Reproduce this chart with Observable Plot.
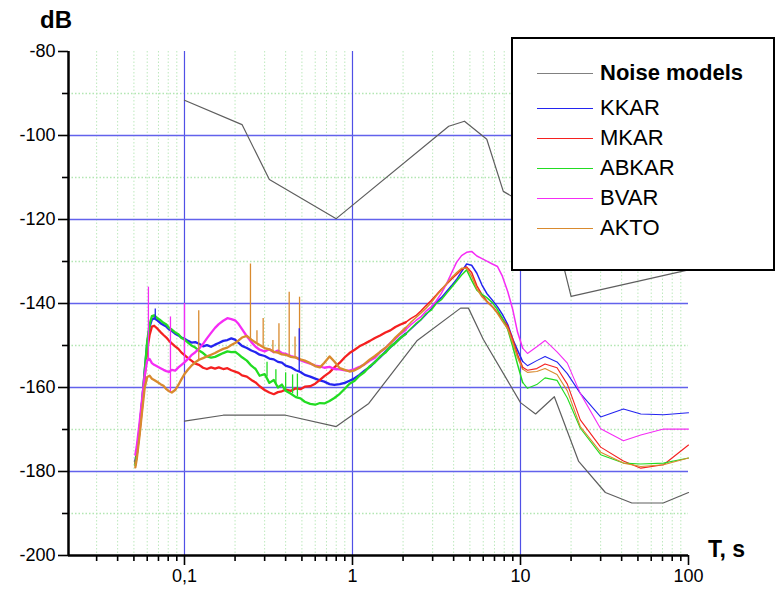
<!DOCTYPE html>
<html><head><meta charset="utf-8">
<script src="https://cdn.jsdelivr.net/npm/d3@7"></script>
<script src="https://cdn.jsdelivr.net/npm/@observablehq/plot@0.6"></script>
<style>
body{margin:0;background:#fff;font-family:"Liberation Sans",Arial,sans-serif;}
#wrap{position:relative;width:777px;height:597px;overflow:hidden;}
#wrap svg{position:absolute;left:0;top:0;}
.lab{position:absolute;font-weight:bold;color:#000;white-space:nowrap;}
#legend{position:absolute;left:511px;top:37px;width:260px;height:230px;border:2px solid #000;background:#fff;}
.li{position:absolute;left:24px;width:56px;height:0;border-top:1px solid;}
.lt{position:absolute;left:87px;font-size:22px;line-height:24px;transform:translateY(-50%);color:#000;white-space:nowrap;}
</style></head>
<body><div id="wrap"></div>
<script>
// Period grid (s)
const T = [
 0.051, 0.052, 0.054, 0.056, 0.058, 0.06, 0.062, 0.064, 0.066, 0.069,
 0.072, 0.075, 0.078, 0.081, 0.084, 0.088, 0.092, 0.096, 0.1, 0.105,
 0.11, 0.116, 0.122, 0.129, 0.136, 0.144, 0.152, 0.16, 0.17, 0.18,
 0.19, 0.2, 0.21, 0.22, 0.235, 0.25, 0.265, 0.28, 0.3, 0.32,
 0.34, 0.36, 0.38, 0.4, 0.43, 0.46, 0.49, 0.52, 0.56, 0.6,
 0.64, 0.68, 0.73, 0.78, 0.84, 0.9, 0.96, 1.03, 1.1, 1.18,
 1.27, 1.36, 1.46, 1.57, 1.68, 1.8, 1.93, 2.07, 2.22, 2.38,
 2.55, 2.74, 2.94, 3.15, 3.38, 3.62, 3.88, 4.16, 4.46, 4.78,
 5.12, 5.5, 5.9, 6.3, 6.8, 7.3, 7.8, 8.4, 9, 9.6,
 10.3, 11, 12.5, 14, 16.5, 19, 22.7, 30, 41, 52,
 71, 100];

const KKAR = [
 -177.5, -175.5, -169.8, -163.2, -156, -149.5, -145.5, -143.8, -143.5, -144,
 -144.7, -145.1, -145.5, -146.2, -146.5, -147.2, -147.6, -148.1, -148.4, -148.9,
 -149.3, -149.2, -149.6, -150.2, -149.9, -150.3, -149.8, -149.4, -148.9, -148.7,
 -148.3, -148.6, -149.4, -150.1, -150.6, -151.2, -151.6, -152.2, -152.5, -153.1,
 -153.3, -153.9, -154.1, -154.8, -155.2, -155.9, -156.3, -157, -157.4, -157.9,
 -158.3, -158.6, -159.2, -159.4, -159.2, -158.9, -158.4, -157.8, -157, -156,
 -155.1, -153.9, -152.8, -151.5, -150.4, -149.3, -148.2, -147.2, -146.1, -145,
 -143.9, -142.6, -141.3, -139.8, -138.6, -137.2, -135.8, -134.3, -132.4, -130.6,
 -130.9, -132.8, -135.6, -137.6, -139.2, -140.8, -142.6, -145, -148.5, -151.1,
 -153.8, -154.8, -153.6, -152.6, -153.9, -156.7, -161.4, -167, -165.1, -166.3,
 -166.5, -166];

const MKAR = [
 -178, -176, -170.5, -164.5, -157.5, -151, -147.5, -145.5, -145.3, -146,
 -146.8, -147.5, -148.1, -148.9, -149.5, -150.2, -150.8, -151.7, -152.3, -153,
 -153.6, -154.3, -154.6, -155.3, -155.6, -155.2, -155.5, -155.2, -155.6, -155.4,
 -155.9, -156.2, -156.5, -157.1, -157.4, -158.2, -158.8, -159.7, -160.6, -161.2,
 -161.6, -161.1, -160.9, -160.5, -160.8, -160.2, -160.4, -159.8, -159.7, -159.1,
 -158.2, -157.3, -156.4, -155.2, -154.1, -152.8, -151.8, -151, -150.2, -149.6,
 -148.9, -148.2, -147.6, -146.9, -146.4, -145.6, -145, -144.5, -143.6, -142.9,
 -141.8, -140.5, -139.3, -138, -136.6, -135.5, -134.2, -133.1, -131.9, -131.3,
 -132.6, -135.8, -137.9, -139.4, -140.7, -142.2, -143.6, -145.4, -148.6, -152.2,
 -155.2, -155.9, -155.5, -154.4, -155.3, -159.2, -167.7, -174.2, -177.5, -179.2,
 -178.4, -173.7];

const ABKAR = [
 -178.5, -176, -170, -163.5, -156, -149, -145, -143, -142.8, -143.5,
 -144, -144.6, -145, -145.8, -146.2, -146.9, -147.3, -148.2, -148.6, -149.3,
 -150, -150.5, -151.2, -151.8, -152.6, -152.9, -152.7, -152.3, -151.8, -151.4,
 -151.6, -151.5, -152.1, -152.8, -153.6, -154.8, -155.6, -157.2, -156.8, -158.9,
 -158.2, -160, -159.3, -160.8, -161.5, -162.3, -162.6, -163.4, -163.9, -164.1,
 -163.7, -163.8, -163.2, -162.5, -161.5, -160.3, -159.1, -158.4, -157.2, -156.3,
 -154.9, -154, -152.6, -151.7, -150.3, -149.4, -148.2, -147.3, -146, -144.8,
 -143.9, -142.4, -141.6, -140, -139.1, -137.6, -136.2, -134.7, -133.2, -132,
 -134.5, -136.8, -137.8, -138.6, -139.8, -141.5, -143.5, -146.2, -150.3, -154.5,
 -158.8, -160.2, -159.3, -157.7, -158.3, -162.5, -169.7, -176, -178, -178.2,
 -178, -176.8];

const BVAR = [
 -176, -174, -168.5, -162.5, -157, -153.5, -153.2, -154.2, -154.6, -155,
 -155.4, -155.8, -156.1, -156.3, -155.8, -156, -155.2, -154.6, -154, -153.2,
 -152.3, -151.6, -150.8, -149.6, -148.3, -147, -145.8, -144.9, -144.1, -143.5,
 -143.7, -144, -144.9, -146.1, -147.8, -149.2, -150.3, -151, -151.4, -150.9,
 -151.6, -151.2, -151.8, -152, -152.5, -152.8, -153.5, -153.9, -154.3, -154.8,
 -155, -155.3, -155.1, -155.6, -155.7, -155.9, -156, -155.6, -155.1, -154.5,
 -153.6, -152.9, -151.6, -150.6, -149.4, -148.4, -147.2, -146.3, -145.1, -144.1,
 -143.2, -141.8, -140.8, -139.4, -137.6, -135.4, -132.8, -130.2, -128.6, -127.8,
 -127.6, -128.7, -129.3, -129.9, -130.6, -131.2, -133.5, -137.2, -141.5, -146.8,
 -150.6, -151.9, -150.3, -148.8, -151.5, -154.2, -161.4, -169.8, -172.7, -171.3,
 -169.9, -169.9];

const AKTO = [
 -179, -177, -171.5, -165.5, -160, -157.5, -157.2, -157.9, -158.2, -158.7,
 -159.2, -159.6, -160.4, -160.9, -161.2, -160.6, -159.4, -158, -156.8, -155.7,
 -154.8, -154, -153.4, -153, -152.6, -152.2, -151.8, -151.3, -150.8, -150.5,
 -149.9, -149.4, -148.8, -148.1, -147.7, -148.6, -149.3, -149.9, -150.6, -150.9,
 -151.5, -151.7, -152.1, -152.2, -152.7, -152.9, -153.3, -153.6, -154.2, -154.9,
 -155.2, -154.1, -152.6, -153.8, -155.4, -155.8, -156.2, -155.9, -155.3, -154.4,
 -153.3, -152.5, -151.5, -150.6, -149.5, -148.1, -147, -145.8, -144.5, -143.4,
 -142.3, -141.1, -139.8, -138.2, -136.8, -135.3, -133.9, -132.7, -131.6, -131.6,
 -133.5, -136.5, -138.4, -139.6, -140.8, -142.4, -144.2, -146, -149.4, -152.8,
 -155.6, -156.4, -156.2, -155.5, -156.9, -160.8, -169.3, -175.4, -178, -178.8,
 -178.4, -176.8];

const seriesNames = ["KKAR", "MKAR", "ABKAR", "BVAR", "AKTO"];
const seriesColors = ["#2424f0", "#f52020", "#22dc22", "#f52cf5", "#d98a2e"];
const seriesValues = [KKAR, MKAR, ABKAR, BVAR, AKTO];

// Narrow spikes in the records
const spikeSeries = ["AKTO","AKTO","AKTO","AKTO","AKTO","AKTO","AKTO","AKTO","AKTO",
                     "BVAR","BVAR","BVAR","KKAR","KKAR",
                     "ABKAR","ABKAR","ABKAR","ABKAR","ABKAR"];
const spikeT    = [0.1216, 0.247, 0.27, 0.294, 0.336, 0.365, 0.42, 0.455, 0.484,
                   0.061, 0.1, 0.0825, 0.067, 0.482,
                   0.31, 0.35, 0.4, 0.44, 0.47];
const spikeLow  = [-153.4, -148.6, -149.4, -150.3, -151.4, -151.8, -152.4, -152.9, -153.2,
                   -153.4, -154, -161, -143.6, -156.3,
                   -157.5, -159.5, -160.8, -161.5, -162.2];
const spikeHigh = [-141.7, -130.6, -146.5, -143.6, -148.8, -144.8, -137.3, -148, -138.5,
                   -136.1, -140, -143.2, -141.3, -146,
                   -154, -155.8, -156.5, -157, -156.8];

// Noise models (low and high)
const nlnmT  = [0.1, 0.17, 0.4, 0.8, 1.25, 2.43, 4.4, 4.9, 6.0, 10, 12.3, 15.9, 22.2, 32, 46, 70.7, 100];
const nlnmDb = [-168, -166.6, -166.6, -169.3, -163.8, -148.8, -141.1, -141.1, -148.5, -163.6, -166.3, -162.2, -177.6, -185, -187.5, -187.5, -185];
const nhnmT  = [0.1, 0.22, 0.32, 0.8, 3.74, 4.64, 6.3, 7.9, 15.4, 20, 100];
const nhnmDb = [-91.6, -97.4, -110.5, -119.8, -97.8, -96.6, -100.9, -113.3, -120, -138.3, -132];

// Axis range, ticks and grid
const xMin = 0.0204, xMax = 100;
const yTicks = [-80, -100, -120, -140, -160, -180, -200];
const yMinor = [-90, -110, -130, -150, -170, -190];
const yGrid = [-100, -120, -140, -160, -180];
const xTicks = [0.1, 1, 10, 100];
const xGrid = [0.1, 1, 10];
const xMinor = [0.03,0.04,0.05,0.06,0.07,0.08,0.09,
                0.2,0.3,0.4,0.5,0.6,0.7,0.8,0.9,
                2,3,4,5,6,7,8,9,
                20,30,40,50,60,70,80,90];

const rows = [];
seriesNames.forEach((name, k) => {
  T.forEach((t, i) => rows.push({T: t, dB: seriesValues[k][i], s: name}));
});
const spikes = spikeT.map((t, i) => ({T: t, lo: spikeLow[i], hi: spikeHigh[i], s: spikeSeries[i]}));
const nlnm = nlnmT.map((t, i) => ({T: t, dB: nlnmDb[i]}));
const nhnm = nhnmT.map((t, i) => ({T: t, dB: nhnmDb[i]}));

const plot = Plot.plot({
  width: 777, height: 597,
  marginLeft: 68, marginRight: 89, marginTop: 51, marginBottom: 42,
  style: {fontFamily: "'Liberation Sans', Arial, sans-serif", fontSize: "18px", color: "#000", background: "transparent"},
  x: {type: "log", domain: [xMin, xMax], axis: null},
  y: {domain: [-200, -80], axis: null},
  color: {domain: seriesNames, range: seriesColors},
  marks: [
    Plot.ruleX(xMinor, {stroke: "#bde9bd", strokeWidth: 1, strokeDasharray: "1.5,2"}),
    Plot.ruleY(yMinor, {stroke: "#b2e6b2", strokeWidth: 1.5, strokeDasharray: "1.5,2"}),
    Plot.ruleX(xGrid, {stroke: "#5050e6", strokeWidth: 1.2}),
    Plot.ruleY(yGrid, {stroke: "#6262ec", strokeWidth: 1.7}),
    Plot.line(nlnm, {x: "T", y: "dB", stroke: "#5e5e5e", strokeWidth: 1.2}),
    Plot.line(nhnm, {x: "T", y: "dB", stroke: "#5e5e5e", strokeWidth: 1.2}),
    Plot.line(rows.filter(d => d.T <= 2.07), {x: "T", y: "dB", z: "s", stroke: "s", strokeWidth: 2.3}),
    Plot.line(rows.filter(d => d.T >= 2.07 && d.T <= 10.3), {x: "T", y: "dB", z: "s", stroke: "s", strokeWidth: 1.5}),
    Plot.line(rows.filter(d => d.T >= 10.3), {x: "T", y: "dB", z: "s", stroke: "s", strokeWidth: 1.1}),
    Plot.ruleX(spikes, {x: "T", y1: "lo", y2: "hi", stroke: "s", strokeWidth: 1.3}),
    Plot.axisY({ticks: yTicks, tickSize: 10, tickPadding: 3, tickFormat: d => String(d), label: null, fontSize: 18, stroke: "#000", strokeWidth: 1.6}),
    Plot.axisY({ticks: yMinor, tickSize: 6, tickFormat: () => "", label: null, stroke: "#000", strokeWidth: 1.6}),
    Plot.axisX({ticks: xTicks, tickSize: 10, tickPadding: 4, tickFormat: d => String(d).replace(".", ","), label: null, fontSize: 18, stroke: "#000", strokeWidth: 1.6}),
    Plot.axisX({ticks: xMinor, tickSize: 6, tickFormat: () => "", label: null, stroke: "#000", strokeWidth: 1.6}),
    Plot.ruleX([xMin], {stroke: "#000", strokeWidth: 2.5}),
    Plot.ruleY([-200], {stroke: "#000", strokeWidth: 2.5})
  ]
});

const wrap = document.getElementById("wrap");
wrap.appendChild(plot);

function addLabel(text, left, top, size) {
  const d = document.createElement("div");
  d.className = "lab";
  d.textContent = text;
  d.style.left = left + "px";
  d.style.top = top + "px";
  d.style.fontSize = size + "px";
  d.style.lineHeight = size + "px";
  wrap.appendChild(d);
}
addLabel("dB", 40, 8, 24);
addLabel("T, s", 708, 538, 23);

// Legend
const legend = document.createElement("div");
legend.id = "legend";
const legendNames = ["Noise models"].concat(seriesNames);
const legendColors = ["#808080"].concat(seriesColors);
const legendY = [34, 69, 99, 129, 159, 189];
legendNames.forEach((name, i) => {
  const l = document.createElement("div");
  l.className = "li";
  l.style.top = legendY[i] + "px";
  l.style.borderTopColor = legendColors[i];
  legend.appendChild(l);
  const t = document.createElement("div");
  t.className = "lt";
  t.style.top = legendY[i] + "px";
  t.textContent = name;
  if (i === 0) { t.style.fontWeight = "bold"; t.style.fontSize = "22px"; }
  legend.appendChild(t);
});
wrap.appendChild(legend);
</script>
</body></html>
